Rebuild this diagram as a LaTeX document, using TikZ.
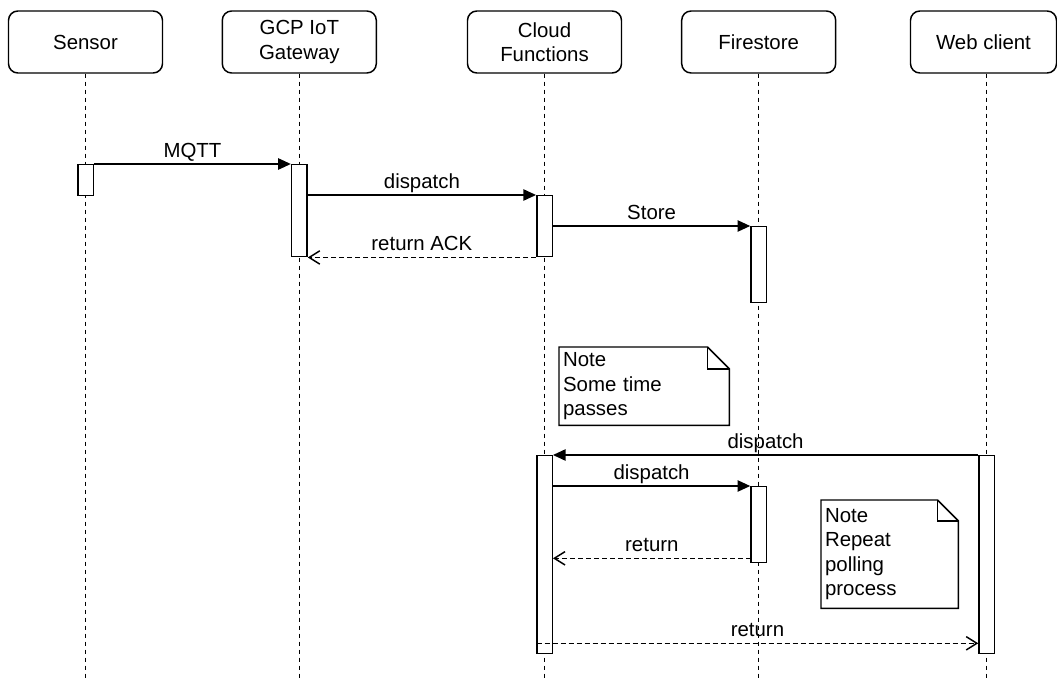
\documentclass[tikz,border=0pt]{standalone}
\usepackage{fontspec}
\setmainfont{Liberation Sans}
\usetikzlibrary{arrows.meta,calc}
\begin{document}
\begin{tikzpicture}[x=0.75pt,y=-0.75pt,
  font=\fontsize{15.3}{18.4}\selectfont,
  line width=1.1pt,
  head/.style={draw, rounded corners=7pt, minimum width=115.5pt, minimum height=46.5pt, align=center, inner sep=0pt},
  act/.style={draw, fill=white, minimum width=11.6pt, anchor=north, inner sep=0pt},
  life/.style={dash pattern=on 3pt off 3pt, line width=1pt},
  msg/.style={-{Triangle[length=9.5pt,width=8.5pt]}},
  ret/.style={dash pattern=on 3.75pt off 2.25pt, -{Straight Barb[length=8pt,width=10pt]}},
  lbl/.style={midway, anchor=base, yshift=5pt},
  notebox/.style={anchor=north west, align=left, inner xsep=2.5pt, inner ysep=0pt}
]
\useasboundingbox (0,0) rectangle (1057,681);

% header boxes
\node[head] (sh) at (85.5,42) {Sensor};
\node[head] (gh) at (299.3,42) {GCP IoT\\Gateway};
\node[head] (ch) at (544.5,42) {Cloud\\Functions};
\node[head] (fh) at (758.7,42) {Firestore};
\node[head, minimum width=109.5pt] (wh) at (983.5,42) {Web client};

% lifeline ends
\coordinate (se) at (85.5,681);
\coordinate (ge) at (299.3,681);
\coordinate (ce) at (544.5,681);
\coordinate (fe) at (758.7,681);
\coordinate (we) at (986.7,681);

\draw[life] (sh.south -| se) -- (se);
\draw[life] (gh.south -| ge) -- (ge);
\draw[life] (ch.south -| ce) -- (ce);
\draw[life] (fh.south -| fe) -- (fe);
\draw[life] (wh.south -| we) -- (we);

% activations
\node[act, minimum height=23.25pt] (sA) at (85.5,164) {};
\node[act, minimum height=69pt] (gA) at (299.3,164) {};
\node[act, minimum height=45.75pt] (cA) at (544.5,195) {};
\node[act, minimum height=57pt] (fA) at (758.7,226) {};
\node[act, minimum height=148.5pt] (cB) at (544.5,455) {};
\node[act, minimum height=57pt] (fB) at (758.7,486) {};
\node[act, minimum height=148.5pt] (wA) at (986.7,455) {};

% messages
\draw[msg] (sA.north east) -- node[lbl] {MQTT} (gA.north west);
\draw[msg] (gA.east |- cA.north) -- node[lbl] {dispatch} (cA.north west);
\draw[ret] (cA.south west) -- node[lbl] {return ACK} (gA.south east);
\draw[msg] (cA.east |- fA.north) -- node[lbl] {Store} (fA.north west);

\draw[msg] (wA.north west) -- node[lbl] {dispatch} (cB.north east);
\draw[msg] (cB.east |- fB.north) -- node[lbl] {dispatch} (fB.north west);
\coordinate (r1s) at (750.7,558.3);
\draw[ret] (r1s) -- node[lbl] {return} (r1s -| cB.east);
\coordinate (r2s) at (536.7,643.3);
\draw[ret] (r2s) -- node[lbl] {return} (r2s -| wA.west);

% notes
\node[notebox, minimum width=126.75pt, minimum height=57.75pt, text width=121.75pt] (n1) at (559,347) {Note\\Some time\\passes};
\draw (n1.north west) -- ($(n1.north east)+(-22,0)$) -- ($(n1.north east)+(0,22)$) -- (n1.south east) -- (n1.south west) -- cycle;
\draw ($(n1.north east)+(-22,0)$) -- ($(n1.north east)+(-22,22)$) -- ($(n1.north east)+(0,22)$);

\node[notebox, minimum width=102pt, minimum height=80.25pt, text width=97pt] (n2) at (821,500) {Note\\Repeat\\polling\\process};
\draw (n2.north west) -- ($(n2.north east)+(-21,0)$) -- ($(n2.north east)+(0,21)$) -- (n2.south east) -- (n2.south west) -- cycle;
\draw ($(n2.north east)+(-21,0)$) -- ($(n2.north east)+(-21,21)$) -- ($(n2.north east)+(0,21)$);
\end{tikzpicture}
\end{document}
